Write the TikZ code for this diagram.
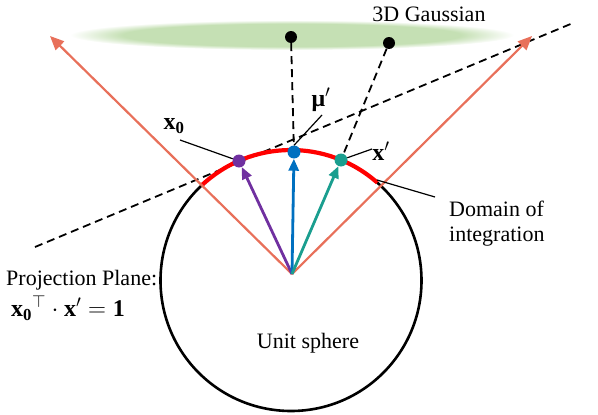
\documentclass[tikz,border=0pt]{standalone}
\usepackage{fontspec}
\setmainfont{Liberation Serif}
\usepackage{amsmath,bm}
\usetikzlibrary{arrows.meta,calc}
\definecolor{gcol}{RGB}{197,224,180}
\definecolor{rayc}{RGB}{232,112,90}
\definecolor{purp}{RGB}{112,48,160}
\definecolor{bluec}{RGB}{0,112,192}
\definecolor{tealc}{RGB}{26,158,143}
\pgfdeclareradialshading{gauss}{\pgfpoint{0bp}{0bp}}{color(0bp)=(gcol); color(19bp)=(gcol); color(25bp)=(white); color(50bp)=(white)}
\tikzset{
  dotnode/.style={circle, inner sep=0pt, minimum size=13pt},
  gdot/.style={circle, inner sep=0pt, minimum size=12pt, fill=black},
  ray/.style={rayc, line width=2.2pt, -{Triangle[length=14pt,width=12pt]}},
  vec/.style={line width=2.8pt, -{Triangle[length=12pt,width=10pt]}},
  dashln/.style={line width=1.8pt, dash pattern=on 8pt off 5pt},
  leader/.style={line width=1.2pt},
  lbl/.style={font=\fontsize{22}{25}\selectfont, inner sep=0pt},
  mlbl/.style={font=\fontsize{24}{26}\selectfont, inner sep=0pt},
}
\begin{document}
\begin{tikzpicture}[x=1pt,y=-1pt]
\useasboundingbox (0,0) rectangle (598,415);
% Gaussian
\shade[shading=gauss] (292,35) ellipse [x radius=222, y radius=15];
\node[lbl] (gl) at (429,14) {3D Gaussian};
% points
\coordinate (C) at (291,280.5);
\coordinate (P) at (292,274);
\coordinate (r1) at (50,36);
\coordinate (r2) at (532,36);
\coordinate (pl1) at (35,247);
\coordinate (pl2) at (573,23);
% plane
\draw[dashln] (pl1) -- (pl2);
% sphere
\draw[line width=2.6pt] (C) circle (130.5);
\draw[red, line width=4.2pt] ($(C)+(-133:130.5)$) arc[start angle=-133, end angle=-48.6, radius=130.5];
% dots
\node[dotnode, fill=purp] (x0) at (239,161) {};
\node[dotnode, fill=bluec] (mu) at (294,152) {};
\node[dotnode, fill=tealc] (xp) at (341,160) {};
\node[gdot] (g1) at (291,37) {};
\node[gdot] (g2) at (389,43) {};
% rays
\draw[ray] (P) -- (r1);
\draw[ray] (P) -- (r2);
% vectors
\draw[vec, purp] (P) -- (x0);
\draw[vec, bluec] (P) -- (mu);
\draw[vec, tealc] (P) -- (xp);
% dashed projections
\draw[dashln] (g1) -- (mu);
\draw[dashln] (g2) -- (xp);
% leaders
\coordinate (lx0) at (180,140);
\coordinate (lmu) at (322,115);
\coordinate (lxp) at (372,149);
\coordinate (dA) at (377,180);
\coordinate (dB) at (435,197);
\draw[leader] (lx0) -- (x0);
\draw[leader] (mu.north) -- (lmu);
\draw[leader] (xp) -- (lxp);
\draw[leader] (dA) -- (dB);
% labels
\node[mlbl] (tx0) at (174,126) {$\mathbf{x_0}$};
\node[mlbl] (tmu) at (321,100) {\textbf{μ}$^{\prime}$};
\node[mlbl] (txp) at (381,151) {$\mathbf{x}^{\prime}$};
\node[lbl, align=left, anchor=north west] (dom) at (449,201) {Domain of\\integration};
\node[lbl, anchor=west] (proj) at (6,280) {Projection Plane:};
\node[mlbl, anchor=west] (form) at (11,308) {$\mathbf{x_0}^{\top}\cdot\mathbf{x}^{\prime}=\mathbf{1}$};
\node[lbl] (us) at (308,343) {Unit sphere};
\end{tikzpicture}
\end{document}
